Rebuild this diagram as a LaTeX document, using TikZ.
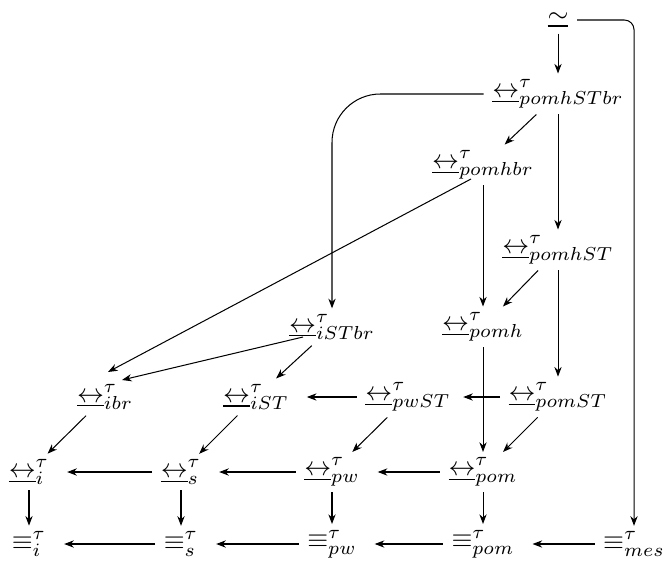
\documentclass[tikz,border=0pt]{standalone}
\usetikzlibrary{arrows.meta}
\newcommand{\bisim}{\underline{\leftrightarrow}}
\begin{document}
\begin{tikzpicture}[x=0.372pt,y=-0.372pt,
  obj/.style={inner xsep=3pt, inner ysep=2pt},
  ar/.style={-{Stealth[length=3.6pt,width=2.7pt]}, line width=0.38pt},
  hz/.style={ar, shorten >=3.5pt}]
\useasboundingbox (0,0) rectangle (668,568);
% nodes
\node[obj] (sim)      at (558,20)  {$\underline{\sim}$};
\node[obj] (pomhSTbr) at (558,94)  {$\bisim^{\tau}_{pomhSTbr}$};
\node[obj] (pomhbr)   at (483,165) {$\bisim^{\tau}_{pomhbr}$};
\node[obj] (pomhST)   at (558,250) {$\bisim^{\tau}_{pomhST}$};
\node[obj] (iSTbr)    at (332,327) {$\bisim^{\tau}_{iSTbr}$};
\node[obj] (pomh)     at (483,327) {$\bisim^{\tau}_{pomh}$};
\node[obj] (ibr)      at (105,397) {$\bisim^{\tau}_{ibr}$};
\node[obj] (iST)      at (256,397) {$\bisim^{\tau}_{iST}$};
\node[obj] (pwST)     at (408,397) {$\bisim^{\tau}_{pwST}$};
\node[obj] (pomST)    at (558,397) {$\bisim^{\tau}_{pomST}$};
\node[obj] (i)        at (29,472)  {$\bisim^{\tau}_{i}$};
\node[obj] (s)        at (181,472) {$\bisim^{\tau}_{s}$};
\node[obj] (pw)       at (332,472) {$\bisim^{\tau}_{pw}$};
\node[obj] (pom)      at (483,472) {$\bisim^{\tau}_{pom}$};
\node[obj] (ei)       at (29,544)  {$\equiv^{\tau}_{i}$};
\node[obj] (es)       at (181,544) {$\equiv^{\tau}_{s}$};
\node[obj] (epw)      at (332,544) {$\equiv^{\tau}_{pw}$};
\node[obj] (epom)     at (483,544) {$\equiv^{\tau}_{pom}$};
\node[obj] (emes)     at (634,544) {$\equiv^{\tau}_{mes}$};
% connectors
\draw[ar] (sim) -- (pomhSTbr);
\draw[ar, rounded corners=3.6pt] (sim) -- (sim -| emes) -- (emes);
\draw[ar, rounded corners=18pt] (pomhSTbr) -- (pomhSTbr -| iSTbr) -- (iSTbr);
\draw[ar] (pomhSTbr) -- (pomhbr);
\draw[ar] (pomhSTbr) -- (pomhST);
\draw[ar] (pomhbr) -- (pomh);
\draw[ar] ([shift={(-12,14)}]pomhbr.center) -- ([shift={(3,-25)}]ibr.center);
\draw[ar] (pomhST) -- (pomh);
\draw[ar] (pomhST) -- (pomST);
\draw[ar] ([shift={(-29,10)}]iSTbr.center) -- ([shift={(17,-17)}]ibr.center);
\draw[ar] (iSTbr) -- (iST);
\draw[ar] (pomh) -- (pom);
\draw[ar, shorten >=1.5pt] (pomST) -- (pwST);
\draw[ar] (pomST) -- (pom);
\draw[hz] (pwST) -- (iST);
\draw[ar] (pwST) -- (pw);
\draw[ar] (ibr) -- (i);
\draw[ar] (iST) -- (s);
\draw[hz] (pom) -- (pw);
\draw[hz] (pw) -- (s);
\draw[hz] (s) -- (i);
\draw[ar] (i) -- (ei);
\draw[ar] (s) -- (es);
\draw[ar] (pw) -- (epw);
\draw[ar] (pom) -- (epom);
\draw[hz] (emes) -- (epom);
\draw[hz] (epom) -- (epw);
\draw[hz] (epw) -- (es);
\draw[hz] (es) -- (ei);
\end{tikzpicture}
\end{document}
